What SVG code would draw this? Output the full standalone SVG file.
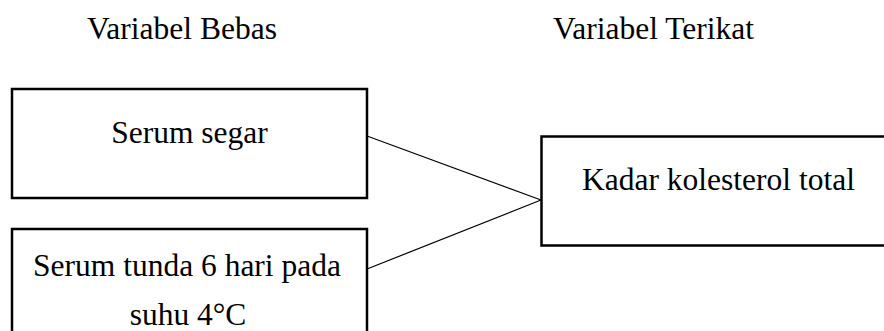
<svg xmlns="http://www.w3.org/2000/svg" width="884" height="331" viewBox="0 0 884 331">
<style>
.t{font-family:"Liberation Serif","Times New Roman",serif;font-size:31.5px;fill:#000;text-anchor:middle}
.box{fill:#fff;stroke:#000;stroke-width:2.5}
.conn{stroke:#000;stroke-width:1.2;fill:none}
</style>
<rect width="884" height="331" fill="#fff"/>
<g id="titles">
<text class="t" x="182" y="39">Variabel Bebas</text>
<text class="t" x="653.5" y="39">Variabel Terikat</text>
</g>
<g id="connectors">
<line class="conn" x1="367" y1="136" x2="541" y2="200"/>
<line class="conn" x1="367" y1="269" x2="541" y2="200"/>
</g>
<g id="node-serum-segar">
<rect class="box" x="12" y="89" width="355" height="109"/>
<text class="t" x="189.5" y="143">Serum segar</text>
</g>
<g id="node-serum-tunda">
<rect class="box" x="12" y="229" width="355" height="120"/>
<text class="t" x="187" y="276">Serum tunda 6 hari pada</text>
<text class="t" x="188" y="325">suhu 4°C</text>
</g>
<g id="node-kadar">
<rect class="box" x="541.5" y="136.5" width="360" height="109"/>
<text class="t" x="718.5" y="190">Kadar kolesterol total</text>
</g>
</svg>
